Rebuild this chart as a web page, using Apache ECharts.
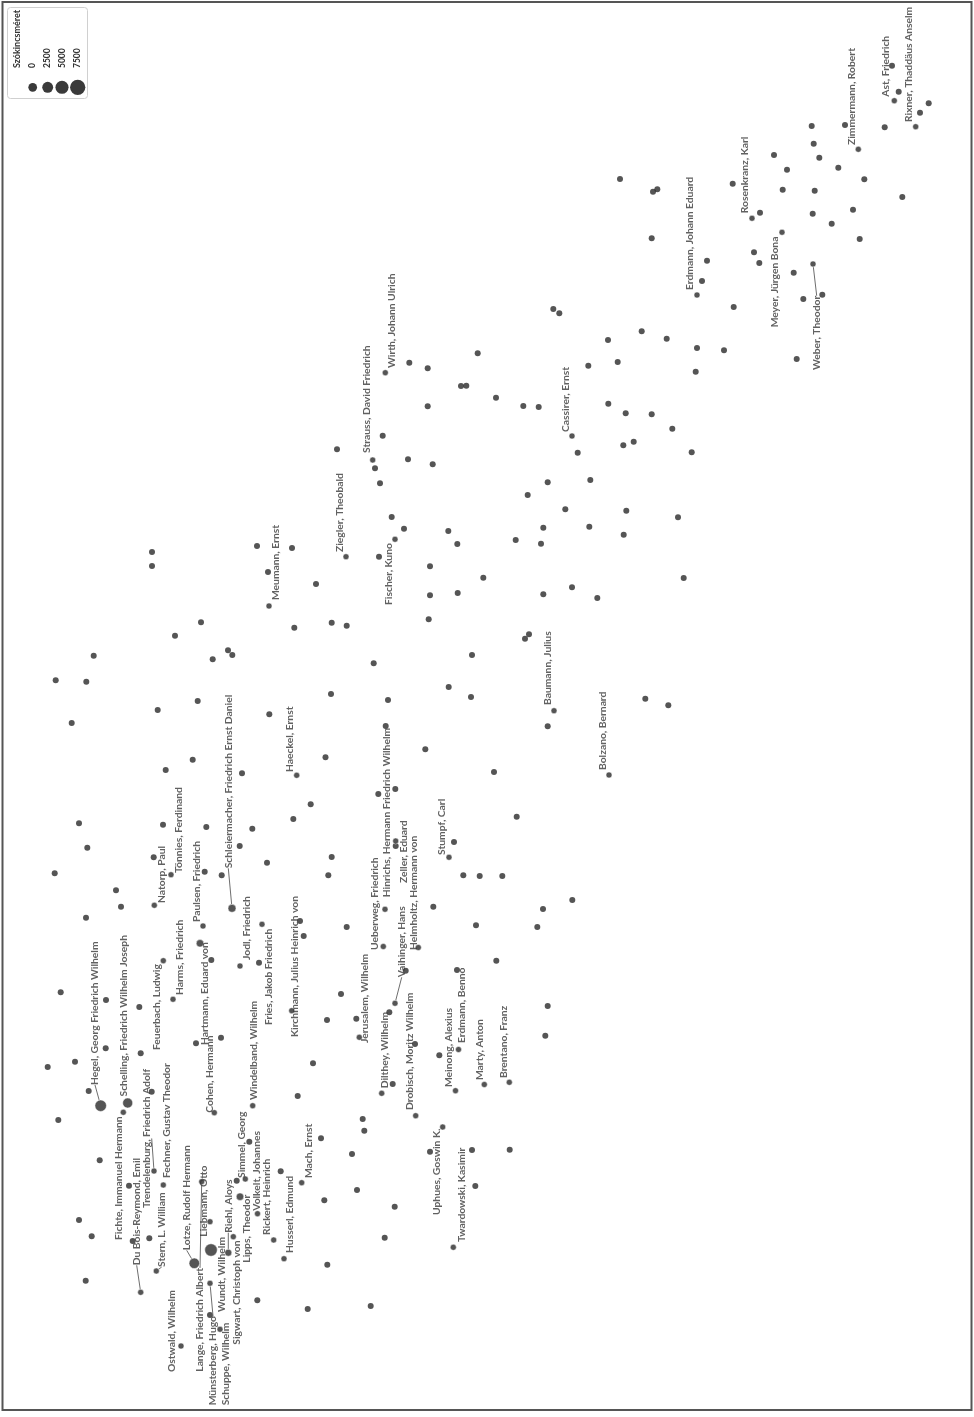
<!DOCTYPE html>
<html>
<head>
<meta charset="utf-8">
<script src="https://cdn.jsdelivr.net/npm/echarts@6/dist/echarts.min.js"></script>
<style>
html,body{margin:0;padding:0;background:#fff;}
#chart{width:974px;height:1417px;}
</style>
</head>
<body>
<div id="chart"></div>
<script>
// Unlabelled authors: [dim1, dim2] map coordinates
const otherAuthors = [
[653,191.7],[657.3,189.3],[651.7,238.3],[732.7,183.7],[760,212.7],[774,155],[787,169.7],[782.7,189.7],[754,252.3],[759.3,263],[793.7,272.7],[803.3,299],[822.3,294.7],[796.7,359],[811.7,126],[813.7,143.7],[819.3,157.7],[814.7,190.7],[812.7,213.7],[831.7,223.7],[838.3,167.7],[845,125],[864.3,179.3],[853,209.7],[859.7,239],[884.7,127.3],[892,65.7],[898.7,91.7],[920,112.7],[928.7,103.3],[902.3,197],[702,281],[707,260.7],[733.7,307],[666.7,338.7],[697,348],[724,350.3],[695.7,371.7],[651.7,414.3],[672.3,428.7],[691.7,452.3],[620,179],
[337,449.3],[331.7,622.7],[346.7,625.7],[375,468.3],[382.7,435.7],[409.3,362.7],[427.7,368.3],[427.7,406.3],[408,459.3],[432.7,464.3],[380,483.3],[391.7,517],[404,528.7],[379,556.7],[430,566.3],[448.3,531],[457.3,544],[430,595.3],[457.7,593],[483.3,577.7],[428.7,619.3],[477.7,353.3],[461,386],[466.3,385.7],[496,397.7],[523.3,406],[538.7,407],[553.3,309],[559.3,313.3],[588.3,365.7],[608,340],[617.7,362],[641.7,331.3],[577.7,452.7],[608.3,403.7],[625.7,413.3],[623.3,445.3],[633.7,441.7],[547.7,482.3],[527.7,495],[590.3,480],[565.3,509.3],[626.3,510.7],[543.3,527.7],[589.3,526.7],[623.7,534.7],[515.7,540],[541,543.7],[543.3,594.3],[572,587.3],[597.3,598],[525,638.7],[529,634.3],[678,517.3],[683.7,578],[547.7,726.3],[645.3,698.7],[668.3,705.3],
[152,552],[152,566],[257,546],[292,548],[268,572],[316,584],
[55.7,680.3],[86.3,681.7],[93.7,655.7],[71.7,723],[175,635.7],[201,622.3],[212.7,659.3],[228,650.3],[232.3,655],[294.3,627.7],[157.7,710],[197.7,701],[269.3,714.3],[192.7,759.7],[165.7,770],[242,773.3],[325.5,757.3],[310.7,804.3],[293.3,819],[79,823.3],[87.3,847.7],[163,824.7],[206.3,827],[252.3,828.7],[153.7,857.3],[204.7,871.7],[239.7,846],[267,862.7],[221.7,875.3],[54.7,873.3],[116,890.3],[121,906.7],[86,917.7],[300,921],[303.7,936],
[472,655],[373.7,663.3],[331,694],[388,700],[448.7,687],[471,697],[425.3,749.3],[494,772],[385.7,726],[378.3,794],[395.3,789],[331.7,857],[328.3,875.3],[454,842],[463.3,875.3],[479.7,876],[502.3,876],[516.7,816.7],[572.3,900],[543,909],[537.3,927],[476,925.3],[433.3,906.7],[346.7,927],[395.7,846],
[60.7,992.3],[106,1000],[139.3,1007],[105.7,1048.3],[140.7,1053.3],[75,1061.7],[47.7,1067],[88.7,1091],[58.3,1120],[151.7,1091.7],[221,1037.7],[196,1043.3],[211.3,960],
[99.7,1160.3],[79,1220],[91.7,1236.3],[85.7,1280.7],[129,1185.7],[132.7,1241],[149.3,1238.3],[210,1315],
[236.7,1180.7],[249.3,1141.7],[257.3,1300.3],[280.7,1171.3],[324.3,1200.3],[327.3,1264.7],[307.7,1309],[352,1154],[357,1190],[394.7,1206.7],[384.7,1237.7],[370.7,1306],[472,1150],[475.3,1186],[509.7,1149.7],[430,1151.7],
[259,962.7],[341,994],[327,1020],[356.3,1018.7],[405.7,970.7],[389.3,1012.3],[392.7,1084],[415,1044],[457,970],[439.3,1055.3],[297.7,1096],[313,1063.3],[362.7,1119],[364.3,1130.7],[321,1138.3],
[496.3,960.7],[547.7,1006],[545.3,1035.7]
];

// Labelled authors
const authorNames = [
'Ast, Friedrich','Rixner, Thaddäus Anselm','Zimmermann, Robert','Rosenkranz, Karl','Meyer, Jürgen Bona','Weber, Theodor','Erdmann, Johann Eduard',
'Wirth, Johann Ulrich','Strauss, David Friedrich','Cassirer, Ernst','Ziegler, Theobald','Fischer, Kuno','Meumann, Ernst','Baumann, Julius','Bolzano, Bernard',
'Haeckel, Ernst','Hinrichs, Hermann Friedrich Wilhelm','Zeller, Eduard','Stumpf, Carl','Ueberweg, Friedrich','Helmholtz, Hermann von','Vaihinger, Hans',
'Dilthey, Wilhelm','Drobisch, Moritz Wilhelm','Jerusalem, Wilhelm','Erdmann, Benno','Meinong, Alexius','Marty, Anton','Brentano, Franz','Uphues, Goswin K.',
'Twardowski, Kasimir','Kirchmann, Julius Heinrich von','Windelband, Wilhelm','Fries, Jakob Friedrich','Jodl, Friedrich','Hartmann, Eduard von','Cohen, Hermann',
'Harms, Friedrich','Feuerbach, Ludwig','Hegel, Georg Friedrich Wilhelm','Schelling, Friedrich Wilhelm Joseph','Fichte, Immanuel Hermann','Trendelenburg, Friedrich Adolf',
'Fechner, Gustav Theodor','Du Bois-Reymond, Emil','Stern, L. William','Ostwald, Wilhelm','Lotze, Rudolf Hermann','Liebmann, Otto','Lange, Friedrich Albert',
'Wundt, Wilhelm','Münsterberg, Hugo','Schuppe, Wilhelm','Sigwart, Christoph von','Riehl, Aloys','Lipps, Theodor','Simmel, Georg','Volkelt, Johannes',
'Rickert, Heinrich','Husserl, Edmund','Mach, Ernst','Schleiermacher, Friedrich Ernst Daniel','Paulsen, Friedrich','Tönnies, Ferdinand','Natorp, Paul'
];
const authorDim1 = [
894.3,915.7,858.3,752,782,813,697,
385.3,372.7,572,346,395,269,554,609,
296.7,385,395.7,449,383.3,418.3,395,
381.7,415.7,359.3,458.5,455.5,484.3,509.3,442.7,
453.3,291.7,252.7,262,240,200,214.3,
173,163.3,100.7,127.7,123.3,154,
163.3,140.7,156.3,181,194.3,210,201.7,
211,210,220,233.3,228.3,240,245.3,257.5,
273.7,284,301.7,232,203,171,154.3
];
const authorDim2 = [
100.7,126.7,149.3,218.3,232.3,264,295,
372.7,460,436,556.7,539.3,606,710.7,775,
775.3,909.3,841,857.3,946.5,947.5,1003.3,
1093.3,1115.7,1037.3,1049.5,1090.7,1084.5,1082.3,1127,
1247.3,1010.7,1105.7,924.3,966,943.3,1112.7,
999.3,960.7,1105.7,1103,1112.3,1171,
1185,1292.3,1271,1346,1263.3,1221.7,1181.7,
1250,1283.3,1329.3,1236.7,1252.7,1196.7,1179,1213.7,
1240,1258.7,1182.7,908.3,926,874.7,905.3
];
// Szókincsméret (vocabulary size)
const vocabSize = [
0,0,0,0,0,0,0,
0,0,0,0,0,0,0,0,
0,0,0,0,0,0,0,
0,0,0,0,0,0,0,0,
0,0,0,0,0,1500,0,
0,0,5500,4000,0,0,
0,0,0,0,4500,0,0,
6500,0,0,0,1000,1500,0,0,
0,0,0,2000,0,0,0
];
const legendValues = [0, 2500, 5000, 7500];

// ---- label placement (layout, not data): [dx, dy] of text start from point, leader line flag
const labelPlacement = {
'Ast, Friedrich':[-9,-4],'Rixner, Thaddäus Anselm':[-7.4,-4.7],'Zimmermann, Robert':[-6.6,-4.3],'Rosenkranz, Karl':[-7,-5],
'Meyer, Jürgen Bona':[-7,95],'Weber, Theodor':[3.7,106,1],'Erdmann, Johann Eduard':[-7,-5],
'Wirth, Johann Ulrich':[6.4,-4.7],'Strauss, David Friedrich':[-6,-7],'Cassirer, Ernst':[-6.3,-4],'Ziegler, Theobald':[-6,-4.7],
'Fischer, Kuno':[-6.7,65.7],'Meumann, Ernst':[7,-6],'Baumann, Julius':[-6.7,-5.7],'Bolzano, Bernard':[-6.3,-5],
'Haeckel, Ernst':[-6.7,-3.3],'Hinrichs, Hermann Friedrich Wilhelm':[1.7,-12],'Zeller, Eduard':[7.6,42],'Stumpf, Carl':[-7.3,-2.3],
'Ueberweg, Friedrich':[-8.3,3.5],'Helmholtz, Hermann von':[-5,2.5],'Vaihinger, Hans':[6.7,-26,1],
'Dilthey, Wilhelm':[3.3,-5],'Drobisch, Moritz Wilhelm':[-5.7,-5.7],'Jerusalem, Wilhelm':[5.7,5.7],'Erdmann, Benno':[3.5,-6.5],
'Meinong, Alexius':[-7.2,-3.7],'Marty, Anton':[-4.3,-4.5],'Brentano, Franz':[-6,-4.3],'Uphues, Goswin K.':[-6,88],
'Twardowski, Kasimir':[8.4,-5.3],'Kirchmann, Julius Heinrich von':[3.3,26.3],'Windelband, Wilhelm':[0.6,-5.7],'Fries, Jakob Friedrich':[6.3,100.7],
'Jodl, Friedrich':[6.7,-6],'Hartmann, Eduard von':[5,101.7],'Cohen, Hermann':[-4.3,0],'Harms, Friedrich':[7,-4.3],
'Feuerbach, Ludwig':[-6.6,89.3],'Hegel, Georg Friedrich Wilhelm':[-5.7,-20.7,1],'Schelling, Friedrich Wilhelm Joseph':[-4.4,-6.5],
'Fichte, Immanuel Hermann':[-5,127.7],'Trendelenburg, Friedrich Adolf':[-7.3,37,1],'Fechner, Gustav Theodor':[3.4,-7],
'Du Bois-Reymond, Emil':[-4,-27,1],'Stern, L. William':[5.4,-4,1],'Ostwald, Wilhelm':[-9,26],'Lotze, Rudolf Hermann':[-7.6,-13,1],
'Liebmann, Otto':[-6.7,15],'Lange, Friedrich Albert':[-1.7,190,1],'Wundt, Wilhelm':[10.7,62],'Münsterberg, Hugo':[3,122,1],
'Schuppe, Wilhelm':[6,76],'Sigwart, Christoph von':[3.7,108],'Riehl, Aloys':[0,-20,1],'Lipps, Theodor':[6.7,66],
'Simmel, Georg':[-3.3,-1],'Volkelt, Johannes':[-1,-3],'Rickert, Heinrich':[-7,-5],'Husserl, Edmund':[6,-5.7],'Mach, Ernst':[6.6,-4.7],
'Schleiermacher, Friedrich Ernst Daniel':[-3.7,-40,1],'Paulsen, Friedrich':[-6.3,-4],'Tönnies, Ferdinand':[7.3,-1.7],'Natorp, Paul':[7.4,-2.3]
};

const FONT = 'Lato, "Source Sans Pro", "Noto Sans", sans-serif';
const DOT = '#2b2b2b';
const sizeOf = v => 6 + v / 1000;

const labelled = authorNames.map((n, i) => {
  const p = labelPlacement[n] || [-7, -5];
  const item = { name: n, value: [authorDim1[i], authorDim2[i], vocabSize[i]] };
  if (p[2]) item.labelLine = { show: true, lineStyle: { color: '#6e6e6e', width: 1 } };
  return item;
});

const chart = echarts.init(document.getElementById('chart'), null, { renderer: 'canvas' });

const legendX = [32.7, 47.7, 62, 77.7];
const legendGraphics = [
  { type: 'rect', shape: { x: 7.5, y: 7.5, width: 80, height: 91, r: 3 }, style: { fill: '#fff', stroke: '#d0d0d0', lineWidth: 1 }, z: 10 },
  { type: 'text', x: 17, y: 68, rotation: Math.PI / 2, style: { text: 'Szókincsméret', font: 'bold 9px ' + FONT, fill: '#333', align: 'left', verticalAlign: 'middle' }, z: 11 }
];
legendValues.forEach((v, i) => {
  legendGraphics.push({ type: 'text', x: legendX[i], y: 68, rotation: Math.PI / 2, style: { text: String(v), font: 'bold 8.5px ' + FONT, fill: '#333', align: 'left', verticalAlign: 'middle' }, z: 11 });
  legendGraphics.push({ type: 'circle', shape: { cx: legendX[i], cy: 87.3, r: (8.7 + v / 7500 * 6.6) / 2 }, style: { fill: '#3a3a3a' }, z: 11 });
});

const option = {
  animation: false,
  backgroundColor: '#ffffff',
  grid: { left: 0, right: 0, top: 0, bottom: 0 },
  xAxis: { type: 'value', min: 0, max: 974, show: false },
  yAxis: { type: 'value', min: 0, max: 1417, inverse: true, show: false },
  series: [
    {
      type: 'scatter', data: otherAuthors, symbolSize: 6, silent: true, z: 2,
      itemStyle: { color: DOT }
    },
    {
      type: 'scatter', data: labelled, silent: true, z: 3,
      symbolSize: v => sizeOf(v[2]),
      itemStyle: { color: DOT, borderColor: '#ffffff', borderWidth: 0.6 },
      label: {
        show: true, formatter: '{b}', rotate: 90, position: 'inside',
        fontFamily: FONT, fontSize: 10.3, fontWeight: 'bold', color: '#3a3a3a',
        align: 'left', verticalAlign: 'middle'
      },
      labelLine: { show: false, lineStyle: { color: '#6e6e6e', width: 1 } },
      labelLayout: function (p) {
        const n = authorNames[p.dataIndex];
        const o = labelPlacement[n] || [-7, -5];
        const cx = p.rect.x + p.rect.width / 2;
        const cy = p.rect.y + p.rect.height / 2;
        return { x: cx + o[0], y: cy + o[1], align: 'left', verticalAlign: 'middle', rotate: 90 };
      }
    }
  ],
  graphic: [
    { type: 'rect', shape: { x: 2.5, y: 2, width: 969, height: 1408 }, style: { fill: 'none', stroke: '#555', lineWidth: 2 }, z: 20, silent: true }
  ].concat(legendGraphics)
};
chart.setOption(option);
</script>
</body>
</html>
